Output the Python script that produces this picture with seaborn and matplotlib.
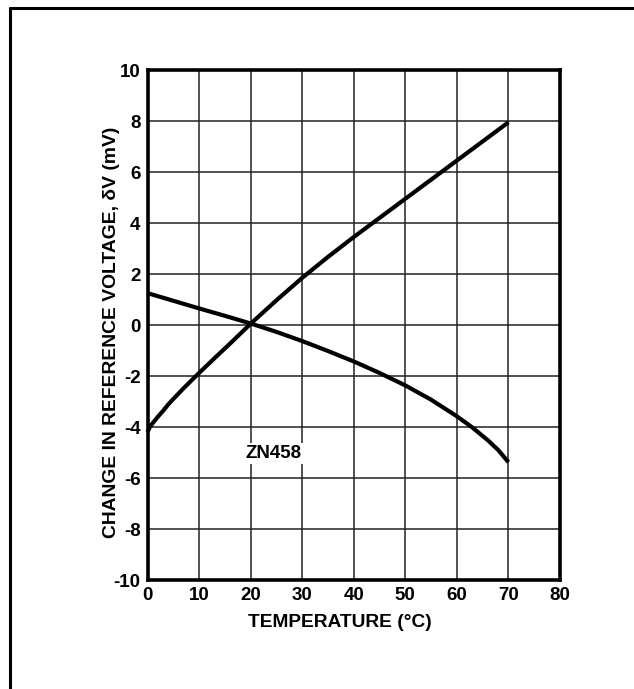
import matplotlib
matplotlib.use("Agg")
import matplotlib.pyplot as plt
import seaborn as sns
import pandas as pd

# data
temp_rise = [0, 0.5, 1, 2, 3, 4, 5, 7, 10, 13, 16, 20, 25, 30, 35, 40, 45, 50, 55, 60, 65, 70]
dv_rise = [-4.2, -3.98, -3.85, -3.6, -3.37, -3.12, -2.9, -2.48, -1.88, -1.3, -0.73, 0.05, 0.97, 1.85, 2.67, 3.45, 4.2, 4.95, 5.7, 6.45, 7.2, 7.95]

temp_fall = [0, 5, 10, 15, 20, 25, 30, 35, 40, 45, 50, 55, 60, 63, 66, 68, 70]
dv_fall = [1.25, 0.95, 0.65, 0.36, 0.06, -0.27, -0.63, -1.02, -1.43, -1.88, -2.37, -2.93, -3.58, -4.02, -4.52, -4.9, -5.38]

xticks = [0, 10, 20, 30, 40, 50, 60, 70, 80]
yticks = [-10, -8, -6, -4, -2, 0, 2, 4, 6, 8, 10]

df_rise = pd.DataFrame({'T': temp_rise, 'dV': dv_rise})
df_fall = pd.DataFrame({'T': temp_fall, 'dV': dv_fall})

sns.set_style('white')
plt.rcParams['font.family'] = ['Liberation Sans', 'DejaVu Sans']
plt.rcParams['font.weight'] = 'bold'
plt.rcParams['axes.unicode_minus'] = False
plt.rcParams['text.color'] = 'black'
plt.rcParams['axes.labelcolor'] = 'black'
plt.rcParams['xtick.color'] = 'black'
plt.rcParams['ytick.color'] = 'black'

fs = 13.5

fig = plt.figure(figsize=(6.34, 6.89), dpi=100)
ax = fig.add_axes([0.2327, 0.1582, 0.8833 - 0.2327, 0.8984 - 0.1582])

# outer frame (only left and top visible in the reference)
fig.add_artist(plt.Line2D([9.5 / 634, 9.5 / 634], [0, 1 - 8 / 689], color='black', lw=2.2))
fig.add_artist(plt.Line2D([9.5 / 634, 1], [1 - 8 / 689, 1 - 8 / 689], color='black', lw=2.2))

sns.lineplot(data=df_rise, x='T', y='dV', sort=False, color='black', lw=3.0, ax=ax, zorder=4)
sns.lineplot(data=df_fall, x='T', y='dV', sort=False, color='black', lw=3.0, ax=ax, zorder=4)
for l in ax.lines:
    l.set_solid_capstyle('butt')
    l.set_solid_joinstyle('round')
    l.set_clip_on(False)

ax.set_xlim(0, 80)
ax.set_ylim(-10, 10)
ax.set_xticks(xticks)
ax.set_yticks(yticks)
ax.grid(True, color='#222222', lw=1.1)
ax.set_axisbelow(True)
for s in ax.spines.values():
    s.set_visible(True)
    s.set_color('black')
    s.set_linewidth(2.6)
    s.set_zorder(3)
ax.tick_params(length=0, labelsize=fs, pad=5, colors='black')
for lab in ax.get_xticklabels() + ax.get_yticklabels():
    lab.set_fontweight('bold')

ax.set_xlabel('TEMPERATURE (°C)', fontsize=13.8, fontweight='bold', color='black')
ax.set_ylabel('CHANGE IN REFERENCE VOLTAGE, δV (mV)', fontsize=13.9, fontweight='bold', color='black')
ax.xaxis.label.set_va('center')
ax.yaxis.label.set_va('center')
ax.xaxis.set_label_coords(0.467, -0.084)
ax.yaxis.set_label_coords(-0.088, 0.486)

ax.text(24.5, -5.05, 'ZN458', fontsize=fs, fontweight='bold', ha='center', va='center', color='black',
        bbox=dict(facecolor='white', edgecolor='none', pad=1.5), zorder=5)

fig.savefig('out.png', dpi=100)
